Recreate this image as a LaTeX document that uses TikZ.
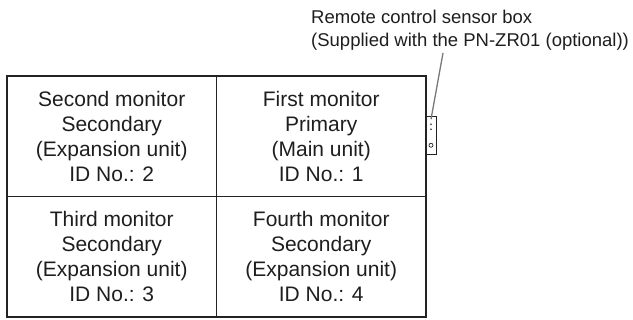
\documentclass[tikz,border=0pt]{standalone}
\usepackage{fontspec}
\usepackage{tikz}
\usepackage{xcolor}
\usetikzlibrary{positioning}
\setmainfont{Liberation Sans}
\definecolor{mline}{RGB}{35, 35, 35}
\definecolor{mtext}{RGB}{30, 30, 30}
\definecolor{mlead}{RGB}{120, 120, 120}
\tikzset{
    cell/.style={rectangle, draw=mline, line width=1.5pt, outer sep=0pt, inner sep=0pt,
        minimum width=209.5pt, minimum height=120.5pt, align=center, text=mtext,
        font=\fontsize{21}{25}\selectfont},
    sensorbox/.style={rectangle, draw=mline, line width=0.9pt, outer sep=0pt, inner sep=0pt,
        minimum width=10pt, minimum height=38pt},
    caption/.style={align=left, inner sep=0pt, text=mtext, font=\fontsize{18.5}{22.5}\selectfont},
    leader/.style={draw=mlead, line width=1.3pt}
}

\begin{document}
\begin{tikzpicture}[x=1pt, y=-1pt]
    \useasboundingbox (0,0) rectangle (633,320);
    % monitor wall
    \node[cell] (second) at (111.75,136.25) {Second monitor\\Secondary\\(Expansion unit)\\ID No.: 2};
    \node[cell, right=0pt of second] (first) {First monitor\\Primary\\(Main unit)\\ID No.: 1};
    \node[cell, below=0pt of second] (third) {Third monitor\\Secondary\\(Expansion unit)\\ID No.: 3};
    \node[cell, below=0pt of first] (fourth) {Fourth monitor\\Secondary\\(Expansion unit)\\ID No.: 4};
    % sensor box
    \node[sensorbox, anchor=west] (sensor) at ([yshift=1pt]first.east) {};
    \fill[mline] ([yshift=-8pt]sensor.north) circle (0.9pt);
    \fill[mline] ([yshift=-13pt]sensor.north) circle (0.9pt);
    \draw[mline, line width=0.7pt] ([yshift=9pt]sensor.south) circle (2pt);
    % label
    \node[caption, anchor=north west] (label) at (311,10) {Remote control sensor box\\(Supplied with the PN-ZR01 (optional))};
    \coordinate (lead) at (443,53);
    \draw[leader] (lead) -- ([yshift=-3pt]sensor.north);
\end{tikzpicture}
\end{document}
